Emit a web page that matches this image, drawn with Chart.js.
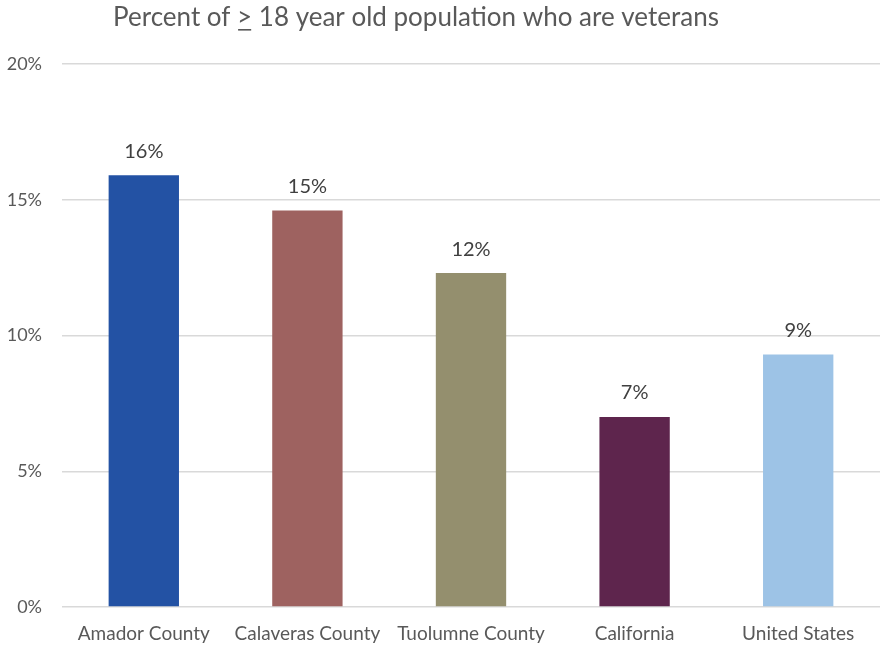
<!DOCTYPE html>
<html>
<head>
<meta charset="utf-8">
<script src="https://cdn.jsdelivr.net/npm/chart.js@4/dist/chart.umd.min.js"></script>
<style>
  html, body { margin: 0; padding: 0; background: #ffffff; }
  #wrap { width: 880px; height: 645px; position: relative; }
</style>
</head>
<body>
<div id="wrap"><canvas id="chart" width="880" height="645"></canvas></div>
<script>
const categories = ['Amador County', 'Calaveras County', 'Tuolumne County', 'California', 'United States'];
const veteranPct = [15.9, 14.6, 12.3, 7.0, 9.3];
const barColors = ['#2352A4', '#9E6260', '#948F6E', '#5E254D', '#9DC3E6'];
const yTicks = [0, 5, 10, 15, 20];
const titleParts = ['Percent of ', '>', ' 18 year old population who are veterans'];

const FONT = 'Lato, "Open Sans", sans-serif';
const TEXT = '#595959';

// Title with the "greater than" sign underlined (reads as "at least")
const titlePlugin = {
  id: 'underlinedTitle',
  afterDraw(chart) {
    const ctx = chart.ctx;
    ctx.save();
    ctx.font = '26px ' + FONT;
    ctx.fillStyle = TEXT;
    ctx.textBaseline = 'alphabetic';
    const widths = titleParts.map(t => ctx.measureText(t).width);
    const total = widths.reduce((a, b) => a + b, 0);
    let x = 416 - total / 2;
    const y = 26;
    titleParts.forEach((t, i) => {
      ctx.fillText(t, x, y);
      if (i === 1) {
        ctx.fillRect(x + 1, y + 3, widths[i] - 2, 1.6);
      }
      x += widths[i];
    });
    ctx.restore();
  }
};

// Rounded percent above each bar
const valueLabels = {
  id: 'valueLabels',
  afterDatasetsDraw(chart) {
    const ctx = chart.ctx;
    const meta = chart.getDatasetMeta(0);
    ctx.save();
    ctx.font = '20px ' + FONT;
    ctx.fillStyle = '#404040';
    ctx.textAlign = 'center';
    ctx.textBaseline = 'middle';
    meta.data.forEach((bar, i) => {
      const v = chart.data.datasets[0].data[i];
      ctx.fillText(Math.round(v) + '%', bar.x, bar.y - 24);
    });
    ctx.restore();
  }
};

new Chart(document.getElementById('chart'), {
  type: 'bar',
  data: {
    labels: categories,
    datasets: [{
      data: veteranPct,
      backgroundColor: barColors,
      borderWidth: 0,
      barPercentage: 0.43,
      categoryPercentage: 1.0
    }]
  },
  options: {
    responsive: false,
    animation: false,
    layout: { padding: { top: 64, right: 0, bottom: 0, left: 0 } },
    plugins: {
      legend: { display: false },
      title: { display: false },
      tooltip: { enabled: false }
    },
    scales: {
      x: {
        afterFit(axis) { axis.height = 38; },
        grid: { display: false },
        border: { display: false },
        ticks: {
          color: TEXT,
          font: { family: FONT, size: 19 },
          maxRotation: 0,
          autoSkip: false,
          padding: 7
        }
      },
      y: {
        min: 0,
        max: 20,
        afterBuildTicks(axis) { axis.ticks = yTicks.map(v => ({ value: v })); },
        afterFit(axis) { axis.width = 62; },
        grid: { color: '#D9D9D9', lineWidth: 1.5, drawTicks: false },
        border: { display: false },
        ticks: {
          color: TEXT,
          font: { family: FONT, size: 18 },
          padding: 20,
          callback: v => v + '%'
        }
      }
    }
  },
  plugins: [titlePlugin, valueLabels]
});
</script>
</body>
</html>
